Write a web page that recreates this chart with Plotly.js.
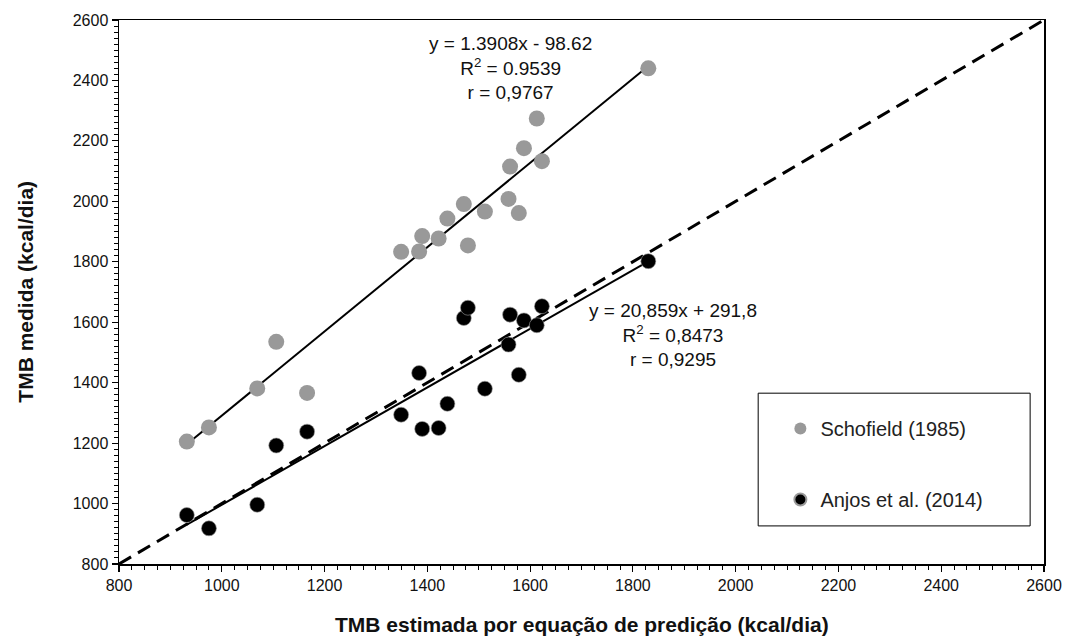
<!DOCTYPE html>
<html>
<head>
<meta charset="utf-8">
<script src="https://cdn.plot.ly/plotly-3.0.1.min.js"></script>
<style>html,body{margin:0;padding:0;background:#fff}#chart{width:1066px;height:642px}</style>
</head>
<body>
<div id="chart"></div>
<script>
// Estimated energy expenditure (x) shared by both equations
var tmbEstimada = [932, 975, 1069, 1106, 1166, 1349, 1384, 1390, 1422, 1439, 1471, 1479, 1512, 1558, 1561, 1578, 1588, 1613, 1623, 1830];
// Measured values, Schofield (1985)
var schofield = [1205, 1252, 1381, 1535, 1366, 1833, 1834, 1885, 1877, 1943, 1991, 1854, 1966, 2008, 2115, 1961, 2176, 2274, 2133, 2440];
// Measured values, Anjos et al. (2014)
var anjos = [962, 918, 996, 1192, 1238, 1294, 1432, 1247, 1250, 1330, 1614, 1648, 1380, 1526, 1625, 1426, 1606, 1590, 1653, 1802];
// Identity line
var identidade = [800, 2600];
var seriesNames = ['Schofield (1985)', 'Anjos et al. (2014)'];
var eqSchofield = ['y = 1.3908x - 98.62', 'R<sup>2</sup> = 0.9539', 'r = 0,9767'];
var eqAnjos = ['y = 20,859x + 291,8', 'R<sup>2</sup> = 0,8473', 'r = 0,9295'];
var xTitle = 'TMB estimada por equação de predição (kcal/dia)';
var yTitle = 'TMB medida (kcal/dia)';

function fit(xs, ys) {
  var n = xs.length, sx = 0, sy = 0, sxx = 0, sxy = 0;
  for (var i = 0; i < n; i++) { sx += xs[i]; sy += ys[i]; sxx += xs[i]*xs[i]; sxy += xs[i]*ys[i]; }
  var b = (n*sxy - sx*sy) / (n*sxx - sx*sx);
  var a = (sy - b*sx) / n;
  var x0 = Math.min.apply(null, xs), x1 = Math.max.apply(null, xs);
  return {x: [x0, x1], y: [a + b*x0, a + b*x1]};
}
var fS = fit(tmbEstimada, schofield);
var fA = fit(tmbEstimada, anjos);

var FONT = 'Liberation Sans, Arial, sans-serif';
var traces = [
  {x: identidade, y: identidade, mode: 'lines', line: {color: '#000', width: 3, dash: '14px,8px'}, showlegend: false, hoverinfo: 'skip'},
  {x: fS.x, y: fS.y, mode: 'lines', line: {color: '#000', width: 2}, showlegend: false},
  {x: fA.x, y: fA.y, mode: 'lines', line: {color: '#000', width: 2}, showlegend: false},
  {x: tmbEstimada, y: schofield, mode: 'markers', name: seriesNames[0], legendgroup: 'a',
   marker: {color: '#999999', size: 16}},
  {x: tmbEstimada, y: anjos, mode: 'markers', name: seriesNames[1], legendgroup: 'b',
   marker: {color: '#000000', size: 15, line: {color: '#9a9a9a', width: 0.6}}}
];

var axisCommon = {
  range: [800, 2600], dtick: 200, tick0: 800, showgrid: false, zeroline: false,
  showline: true, linecolor: '#000', linewidth: 1.5, mirror: true,
  ticks: 'outside', ticklen: 6, tickwidth: 1.2, tickcolor: '#000',
  tickfont: {family: FONT, size: 16, color: '#111'}
};
var xaxis = Object.assign({}, axisCommon, {
  minor: {dtick: 25, ticks: 'outside', ticklen: 4, tickcolor: '#000', tickwidth: 1}
});
var yaxis = Object.assign({}, axisCommon, {
  minor: {dtick: 20, ticks: 'outside', ticklen: 4, tickcolor: '#000', tickwidth: 1}
});

var layout = {
  width: 1066, height: 642,
  margin: {l: 119, r: 22, t: 20, b: 78},
  paper_bgcolor: '#fff', plot_bgcolor: '#fff',
  font: {family: FONT, color: '#111'},
  xaxis: xaxis, yaxis: yaxis,
  showlegend: true,
  legend: {x: 0.715, y: 0.285, xanchor: 'left', yanchor: 'top', bgcolor: 'rgba(0,0,0,0)',
           borderwidth: 0, font: {family: FONT, size: 20, color: '#222'},
           tracegroupgap: 42, itemsizing: 'constant', traceorder: 'grouped'},
  shapes: [{type: 'rect', xref: 'paper', yref: 'paper', x0: 0.691, x1: 0.985, y0: 0.07, y1: 0.314,
            line: {color: '#000', width: 1}, fillcolor: 'rgba(0,0,0,0)'}],
  annotations: [
    {x: 1561, y: 2441, xref: 'x', yref: 'y', text: eqSchofield.join('<br>'), showarrow: false,
     align: 'center', font: {family: FONT, size: 19, color: '#111'}},
    {x: 1878, y: 1559, xref: 'x', yref: 'y', text: eqAnjos.join('<br>'), showarrow: false,
     align: 'center', font: {family: FONT, size: 19, color: '#111'}},
    {x: 0.5, y: -0.112, xref: 'paper', yref: 'paper', text: xTitle, showarrow: false,
     xanchor: 'center', yanchor: 'middle', font: {family: FONT, size: 21, weight: 'bold', color: '#111'}},
    {x: -0.102, y: 0.5, xref: 'paper', yref: 'paper', text: yTitle, showarrow: false, textangle: -90,
     xanchor: 'center', yanchor: 'middle', font: {family: FONT, size: 21, weight: 'bold', color: '#111'}}
  ]
};
Plotly.newPlot('chart', traces, layout, {displayModeBar: false, staticPlot: true});
</script>
</body>
</html>
